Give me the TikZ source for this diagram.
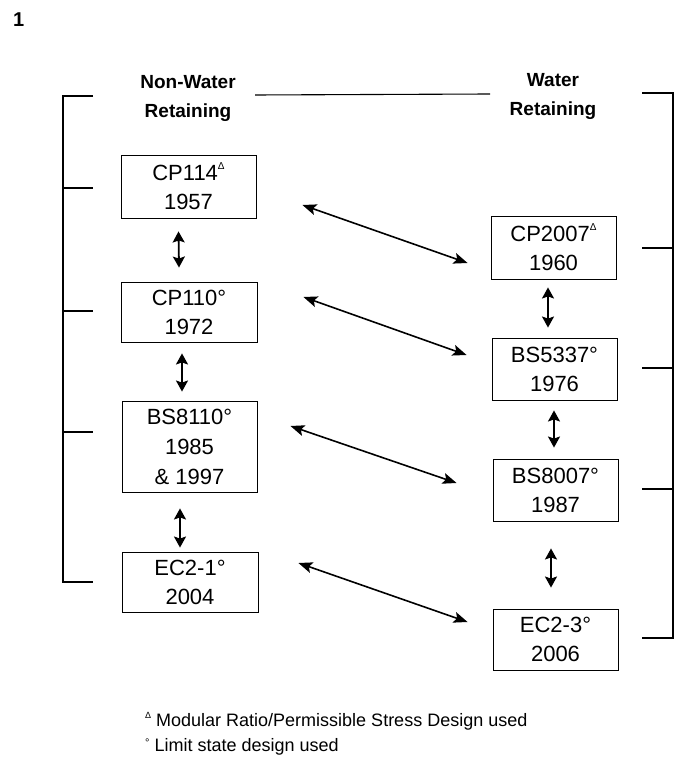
\documentclass[tikz,border=0pt]{standalone}
\usepackage{fontspec}
\setmainfont{Liberation Sans}
\usetikzlibrary{arrows.meta,calc}
\begin{document}
\begin{tikzpicture}[x=1pt,y=1pt,
  stdbox/.style={draw,line width=0.9pt,align=center,inner sep=0pt,
    font=\fontsize{22}{29}\selectfont},
  hdr/.style={align=center,font=\bfseries\fontsize{19}{29}\selectfont},
  brk/.style={line width=1.1pt},
  link/.style={line width=1.6pt,{Stealth[length=14pt,width=11pt,inset=3pt]}-{Stealth[length=14pt,width=11pt,inset=3pt]}},
  vlink/.style={line width=1.8pt,{Stealth[length=11pt,width=12pt,inset=2pt]}-{Stealth[length=11pt,width=12pt,inset=2pt]}},
  note/.style={anchor=west,inner sep=0pt,font=\fontsize{18}{20}\selectfont}]
\newcommand{\tri}{\raisebox{0.5em}{\fontsize{10}{10}\selectfont Δ}}
\useasboundingbox (0,0) rectangle (675,-759);
\node[anchor=west,inner sep=0pt,font=\bfseries\fontsize{20}{22}\selectfont] (fig) at (13,-20) {1};
% headers
\node[hdr] (hl) at (188,-98) {Non-Water\\Retaining};
\node[hdr] (hr) at (553,-96) {Water\\Retaining};
% brackets
\draw[brk] (93,-96) -- (63,-96) -- (63,-582) -- (93,-582);
\foreach \yy in {188,311,432} \draw[brk] (63,-\yy) -- (93,-\yy);
\draw[brk] (255,-95) -- (490,-94);
\draw[brk] (642,-93) -- (673,-93) -- (673,-638) -- (642,-638);
\foreach \yy in {248,368,489} \draw[brk] (642,-\yy) -- (673,-\yy);
% left boxes
\node[stdbox,minimum width=135pt,minimum height=63pt] (cp114) at (188.5,-186.5) {CP114\tri\\1957};
\node[stdbox,minimum width=136pt,minimum height=60pt] (cp110) at (189,-312) {CP110°\\1972};
\node[stdbox,minimum width=135pt,minimum height=91pt,font=\fontsize{22}{30}\selectfont] (bs8110) at (189.5,-446.5) {BS8110°\\1985\\\& 1997};
\node[stdbox,minimum width=136pt,minimum height=60pt] (ec21) at (190,-582) {EC2-1°\\2004};
% right boxes
\node[stdbox,minimum width=125pt,minimum height=63pt] (cp2007) at (553.5,-247.5) {CP2007\tri\\1960};
\node[stdbox,minimum width=125pt,minimum height=62pt] (bs5337) at (554.5,-369) {BS5337°\\1976};
\node[stdbox,minimum width=125pt,minimum height=62pt] (bs8007) at (555.5,-490) {BS8007°\\1987};
\node[stdbox,minimum width=125pt,minimum height=61pt] (ec23) at (555.5,-639.5) {EC2-3°\\2006};
% vertical links
\draw[vlink] ([shift={(-10,-13)}]cp114.south) -- ([shift={(-10,14)}]cp110.north);
\draw[vlink] ([shift={(-7,-11)}]cp110.south) -- ([shift={(-7.5,9)}]bs8110.north);
\draw[vlink] ([shift={(-9.5,-16)}]bs8110.south) -- ([shift={(-10,4)}]ec21.north);
\draw[vlink] ([shift={(-5.5,-8)}]cp2007.south) -- ([shift={(-6.5,10)}]bs5337.north);
\draw[vlink] ([shift={(-0.5,-10)}]bs5337.south) -- ([shift={(-1.5,11)}]bs8007.north);
\draw[vlink] ([shift={(-4.5,-27)}]bs8007.south) -- ([shift={(-4.5,21)}]ec23.north);
% diagonal links
\draw[link] ([shift={(46,-18.5)}]cp114.east) -- ([shift={(-23,-15.5)}]cp2007.west);
\draw[link] ([shift={(46,15)}]cp110.east) -- ([shift={(-25,14)}]bs5337.west);
\draw[link] ([shift={(33,20.5)}]bs8110.east) -- ([shift={(-36,7)}]bs8007.west);
\draw[link] ([shift={(40,19)}]ec21.east) -- ([shift={(-25,17.5)}]ec23.west);
% notes
\node[note] (n1) at (145,-721) {\raisebox{0.45em}{\fontsize{9}{9}\selectfont Δ} Modular Ratio/Permissible Stress Design used};
\node[note] (n2) at (145,-747) {\raisebox{0.3em}{\fontsize{11}{11}\selectfont °} Limit state design used};
\end{tikzpicture}
\end{document}
